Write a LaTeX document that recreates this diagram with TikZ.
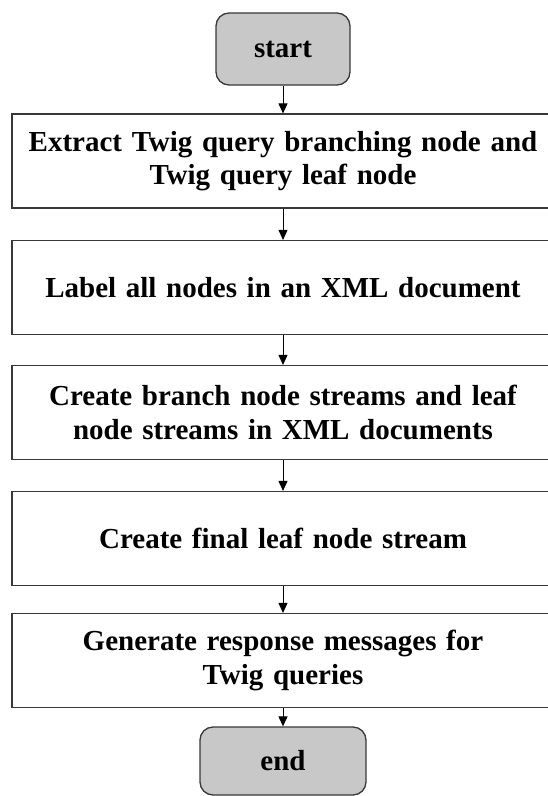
\documentclass[tikz,border=0pt]{standalone}
\usepackage{fontspec}
\setmainfont{Liberation Serif}
\usetikzlibrary{arrows.meta}
\definecolor{terminal gray}{rgb}{0.784, 0.784, 0.784}
\definecolor{frame gray}{rgb}{0.22, 0.22, 0.22}

\tikzset{
	terminal/.style={draw=frame gray, fill=terminal gray, line width=1.3pt, rounded corners=13pt, inner sep=0pt},
	stepbox/.style={draw=frame gray, line width=1.2pt, minimum width=542pt, minimum height=94pt, text width=530pt, align=center, inner sep=0pt},
	flow/.style={-{Triangle[length=10pt, width=9pt]}, line width=1pt, black}
}

\begin{document}
\begin{tikzpicture}[x=1pt, y=-1pt, font=\bfseries\fontsize{29}{33.5}\selectfont]
			\useasboundingbox (0, 0) rectangle (548, 796);
			% terminals
			\node[terminal, minimum width=134pt, minimum height=72pt] (start) at (283, 49) {start};
			\node[terminal, minimum width=166pt, minimum height=68pt] (end) at (283, 761) {end};
			% steps
			\node[stepbox] (extract) at (283, 161) {Extract Twig query branching node and\\Twig query leaf node};
			\node[stepbox] (label) at (283, 287.5) {Label all nodes in an XML document};
			\node[stepbox] (streams) at (283, 412.5) {Create branch node streams and leaf\\node streams in XML documents};
			\node[stepbox] (final) at (283, 538.5) {Create final leaf node stream};
			\node[stepbox] (respond) at (283, 660.5) {Generate response messages for\\Twig queries};
			% connectors
			\draw[flow] (start) -- (extract);
			\draw[flow] (extract) -- (label);
			\draw[flow] (label) -- (streams);
			\draw[flow] (streams) -- (final);
			\draw[flow] (final) -- (respond);
			\draw[flow] (respond) -- (end);
		\end{tikzpicture}
\end{document}
